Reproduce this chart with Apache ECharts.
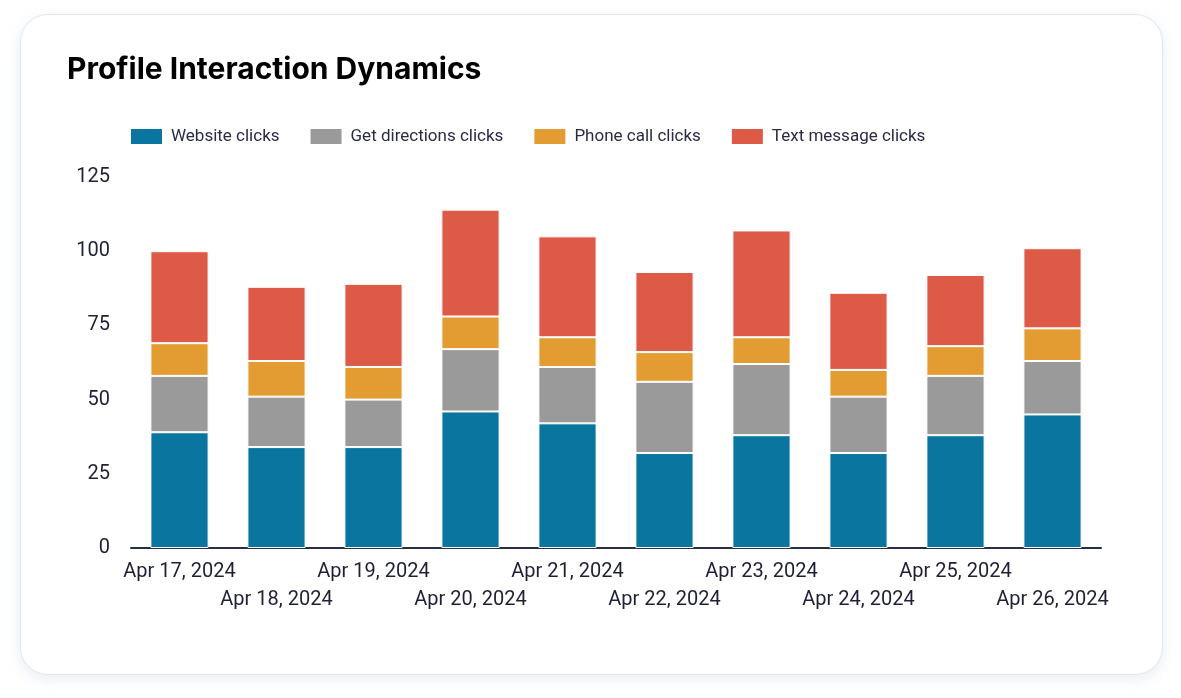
<!DOCTYPE html>
<html>
<head>
<meta charset="utf-8">
<script src="https://cdn.jsdelivr.net/npm/echarts@6/dist/echarts.min.js"></script>
<style>
  html, body { margin: 0; padding: 0; background: #ffffff; width: 1181px; height: 698px; overflow: hidden; }
  #card { position: absolute; left: 20px; top: 14px; width: 1141px; height: 659px; border: 1.5px solid #e3e7ec; border-radius: 28px; background: #fff; box-shadow: 0 4px 14px rgba(180, 205, 225, 0.35); }
  #chart { position: absolute; left: 0; top: 0; width: 1181px; height: 698px; }
</style>
</head>
<body>
<div id="card"></div>
<div id="chart"></div>
<script>
const categories = ['Apr 17, 2024','Apr 18, 2024','Apr 19, 2024','Apr 20, 2024','Apr 21, 2024','Apr 22, 2024','Apr 23, 2024','Apr 24, 2024','Apr 25, 2024','Apr 26, 2024'];
const websiteClicks    = [39, 34, 34, 46, 42, 32, 38, 32, 38, 45];
const directionsClicks = [19, 17, 16, 21, 19, 24, 24, 19, 20, 18];
const phoneClicks      = [11, 12, 11, 11, 10, 10,  9,  9, 10, 11];
const textClicks       = [31, 25, 28, 36, 34, 27, 36, 26, 24, 27];
const seriesNames = ['Website clicks', 'Get directions clicks', 'Phone call clicks', 'Text message clicks'];
const colors = ['#0a769f', '#9a9a9a', '#e29c31', '#dd5a47'];

const chart = echarts.init(document.getElementById('chart'), null, { renderer: 'canvas' });
const mk = (name, data, color) => ({
  name, type: 'bar', stack: 'total', data,
  barCategoryGap: '40%',
  itemStyle: { color, borderColor: '#ffffff', borderWidth: 1 },
  emphasis: { disabled: true }
});
chart.setOption({
  animation: false,
  title: {
    text: 'Profile Interaction Dynamics',
    left: 62, top: 50,
    textStyle: { fontFamily: 'Inter', fontWeight: 'bold', fontSize: 30, color: '#000000' }
  },
  legend: {
    left: 124, top: 122,
    itemWidth: 33, itemHeight: 17, itemGap: 29,
    icon: 'rect',
    textStyle: { fontFamily: 'Roboto', fontSize: 17, color: '#2a2a45', padding: [0, 0, 0, 3] },
    data: seriesNames
  },
  grid: { left: 131, right: 80, top: 177, bottom: 150, containLabel: false },
  xAxis: {
    type: 'category', data: categories,
    axisLine: { lineStyle: { color: '#2b2d45', width: 2 } },
    axisTick: { show: false },
    axisLabel: {
      interval: 0, margin: 10, lineHeight: 28,
      fontFamily: 'Roboto', fontSize: 20, color: '#1f2035',
      formatter: (v, i) => (i % 2 ? '\n' + v : v)
    }
  },
  yAxis: {
    type: 'value', min: 0, max: 125, interval: 25,
    axisLine: { show: false }, axisTick: { show: false },
    splitLine: { show: false },
    axisLabel: { margin: 21, fontFamily: 'Roboto', fontSize: 20, color: '#1f2035' }
  },
  series: [
    mk(seriesNames[0], websiteClicks, colors[0]),
    mk(seriesNames[1], directionsClicks, colors[1]),
    mk(seriesNames[2], phoneClicks, colors[2]),
    mk(seriesNames[3], textClicks, colors[3])
  ]
});
</script>
</body>
</html>
